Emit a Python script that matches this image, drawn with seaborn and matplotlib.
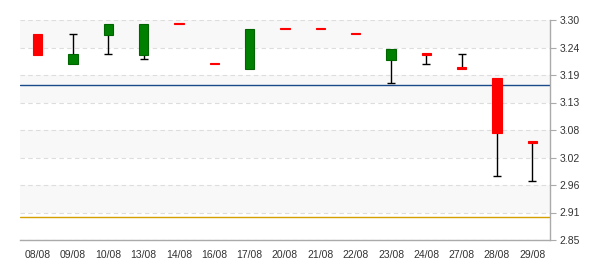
import matplotlib
matplotlib.use("Agg")
import matplotlib.pyplot as plt
import seaborn as sns
import numpy as np
import pandas as pd

dates = ["08/08", "09/08", "10/08", "13/08", "14/08", "16/08", "17/08", "20/08",
         "21/08", "22/08", "23/08", "24/08", "27/08", "28/08", "29/08"]
opens = [3.271, 3.211, 3.270, 3.229, 3.293, 3.211, 3.200, 3.283,
         3.283, 3.273, 3.218, 3.232, 3.2025, 3.181, 3.0525]
highs = [3.271, 3.271, 3.292, 3.292, 3.293, 3.211, 3.282, 3.283,
         3.283, 3.273, 3.241, 3.232, 3.230, 3.181, 3.0525]
lows = [3.229, 3.211, 3.230, 3.220, 3.291, 3.209, 3.200, 3.281,
        3.281, 3.271, 3.171, 3.211, 3.200, 2.980, 2.970]
closes = [3.229, 3.231, 3.292, 3.292, 3.291, 3.209, 3.282, 3.281,
          3.281, 3.271, 3.241, 3.229, 3.200, 3.0695, 3.0485]
ref_blue = 3.167
ref_gold = 2.897
y_ticks = list(np.linspace(2.85, 3.30, 9))

df = pd.DataFrame({"date": dates, "open": opens, "high": highs,
                   "low": lows, "close": closes})

sns.set_style("white")
plt.rcParams["font.family"] = ["Liberation Sans", "DejaVu Sans"]

fig = plt.figure(figsize=(6, 2.7), dpi=100)
ax = fig.add_axes([20 / 600, 30 / 270, 530 / 600, 220 / 270])

# alternating bands
for i in range(len(y_ticks) - 1):
    if i % 2 == 1:
        ax.axhspan(y_ticks[i], y_ticks[i + 1], color="#f8f8f8", zorder=0, lw=0)
for t in y_ticks:
    ax.axhline(t, color="#dddddd", lw=0.8, ls=(0, (4, 3)), zorder=0.5)

ax.axhline(ref_blue, color="#1a4a8a", lw=1.0, zorder=1)
ax.axhline(ref_gold, color="#d4a000", lw=1.0, zorder=1)

x = np.arange(len(df))
up = df["close"] >= df["open"]
colors = np.where(up, "#008000", "#ff0000")
edges = np.where(up, "#006400", "#ff0000")
body_lo = np.minimum(df["open"], df["close"])
body_hi = np.maximum(df["open"], df["close"])
height = np.maximum(body_hi - body_lo, 0.003)

# wicks
for xi, lo, hi, bl, bh in zip(x, df["low"], df["high"], body_lo, body_hi):
    if hi > bh + 1e-4:
        ax.vlines(xi, bh, hi, color="black", lw=1, zorder=2)
        ax.hlines(hi, xi - 0.11, xi + 0.11, color="black", lw=1, zorder=2)
    if lo < bl - 1e-4:
        ax.vlines(xi, lo, bl, color="black", lw=1, zorder=2)
        ax.hlines(lo, xi - 0.11, xi + 0.11, color="black", lw=1, zorder=2)

ax.bar(x, height, bottom=body_lo, width=0.26, color=colors,
       edgecolor=edges, linewidth=0.8, zorder=3)

ax.set_xlim(-0.5, len(df) - 0.5)
ax.set_ylim(2.85, 3.30)
ax.set_xticks(x)
ax.set_xticklabels(dates)
ax.set_yticks(y_ticks)
ax.set_yticklabels([f"{t:.2f}" for t in y_ticks])
ax.yaxis.tick_right()

for s in ["left", "top"]:
    ax.spines[s].set_visible(False)
for s in ["bottom", "right"]:
    ax.spines[s].set_color("#aaaaaa")
    ax.spines[s].set_linewidth(1)

ax.tick_params(axis="x", direction="inout", length=4, color="#aaaaaa",
               labelsize=7.5, labelcolor="#333333", pad=5)
ax.tick_params(axis="y", direction="out", length=4, color="#aaaaaa",
               labelsize=7.5, labelcolor="#333333", pad=3, right=True, left=False)

fig.savefig("out.png", dpi=100)
